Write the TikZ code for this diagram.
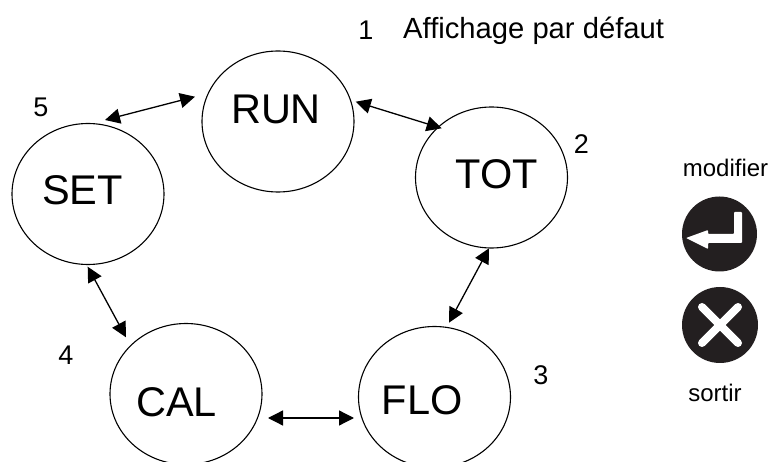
\documentclass[tikz,border=0pt]{standalone}
\usepackage{fontspec}
\setmainfont{Liberation Sans}
\usetikzlibrary{arrows.meta,calc,shapes.geometric}
\definecolor{keyblack}{HTML}{231F20}
\tikzset{
  state/.style={ellipse,draw,line width=1.1pt,minimum width=152pt,minimum height=141pt,inner sep=0pt},
  big/.style={inner sep=0pt,font=\fontsize{41.5}{42}\selectfont},
  num/.style={inner sep=0pt,font=\fontsize{27}{27}\selectfont},
  keycap/.style={inner sep=0pt,anchor=base,font=\fontsize{24}{24}\selectfont},
  dbl/.style={line width=1.3pt,{Triangle[length=15pt,width=15pt]}-{Triangle[length=15pt,width=15pt]}},
  keydisc/.style={circle,fill=keyblack,minimum size=75pt,inner sep=0pt}
}
\begin{document}
\begin{tikzpicture}[x=1pt,y=-1pt]
\useasboundingbox (0,0) rectangle (769,462);
\clip (0,0) rectangle (769,462);
\node[state] (run) at (278,121.5) {};
\node[state] (tot) at (491.5,177.5) {};
\node[state] (flo) at (434.5,397) {};
\node[state] (cal) at (186,394) {};
\node[state] (set) at (88,194) {};
\node[big] (runt) at (276,109.5) {RUN};
\node[big] (tott) at (497,174.5) {TOT};
\node[big] (flot) at (422,400.5) {FLO};
\node[big] (calt) at (176.5,402) {CAL};
\node[big] (sett) at (82.5,190) {SET};
\node[num] (n1) at (366,30.5) {1};
\node[num] (n2) at (581.5,144.5) {2};
\node[num] (n3) at (541,375) {3};
\node[num] (n4) at (66,355) {4};
\node[num] (n5) at (41,107) {5};
\node[inner sep=0pt,anchor=base west,font=\fontsize{29.2}{30}\selectfont] (title) at (403,38.5) {Affichage par défaut};
\node[keycap] (mod) at (725.5,177) {modifier};
\node[keycap] (sor) at (715,402) {sortir};
\draw[dbl] ($(set)+(17,-74)$) -- ($(run)+(-83,-24.8)$);
\draw[dbl] ($(run)+(77.7,-19.8)$) -- ($(tot)+(-49.8,-49.2)$);
\draw[dbl] ($(tot)+(-2.5,70.8)$) -- ($(flo)+(14.5,-74.3)$);
\draw[dbl] ($(cal)+(82,24)$) -- ($(flo)+(-80.5,21)$);
\draw[dbl] ($(set)+(-0.3,72.7)$) -- ($(cal)+(-60,-56.7)$);
\node[keydisc] (ret) at (719.5,234) {};
\node[keydisc,minimum size=76pt] (esc) at (720,325) {};
\fill[white,rounded corners=0.8pt] ($(ret)+(-33.5,4)$) -- ($(ret)+(-11.5,-4)$) -- ($(ret)+(-11.5,0)$) -- ($(ret)+(14.5,0)$) -- ($(ret)+(14.5,-22)$) -- ($(ret)+(22.5,-22)$) -- ($(ret)+(22.5,9)$) -- ($(ret)+(-11.5,9)$) -- ($(ret)+(-11.5,15)$) -- cycle;
\draw[white,line width=8pt,line cap=round] ($(esc)+(-18,-18)$) -- ($(esc)+(18,18)$);
\draw[white,line width=8pt,line cap=round] ($(esc)+(-18,18)$) -- ($(esc)+(18,-18)$);
\end{tikzpicture}
\end{document}
